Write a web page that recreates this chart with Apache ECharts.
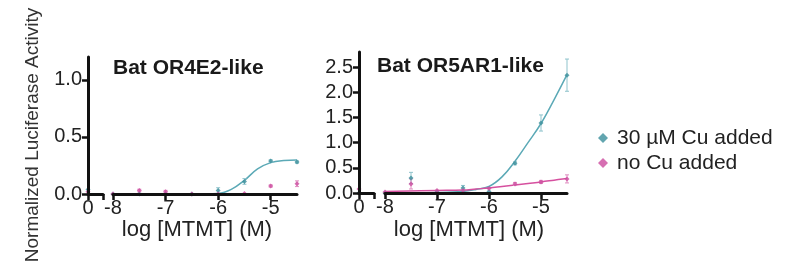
<!DOCTYPE html>
<html>
<head>
<meta charset="utf-8">
<script src="https://cdn.jsdelivr.net/npm/echarts@6/dist/echarts.min.js"></script>
<style>html,body{margin:0;padding:0;background:#fff}#c{width:800px;height:280px}</style>
</head>
<body>
<div id="c"></div>
<script>
// ---- data ----
const logConc = [-8, -7.5, -7, -6.5, -6, -5.5, -5, -4.5];
const xTicks = [-8, -7, -6, -5];

// Left panel: Bat OR4E2-like
const leftCuZero = 0.04, leftNoZero = 0.02;
const leftCu      = [0.0, 0.0, 0.0, 0.0, 0.03, 0.11, 0.29, 0.28];
const leftCuErr   = [0, 0, 0, 0, 0.025, 0.025, 0.01, 0.01];
const leftNo      = [0.0, 0.03, 0.02, 0.0, 0.0, 0.005, 0.07, 0.09];
const leftNoErr   = [0, 0.012, 0.012, 0, 0, 0, 0.01, 0.025];
const leftFitX    = [-8, -6.5, -6.0, -5.75, -5.5, -5.25, -5.0, -4.75, -4.5];
const leftFitCu   = [0.0, 0.0, 0.005, 0.04, 0.12, 0.22, 0.275, 0.293, 0.297];

// Right panel: Bat OR5AR1-like
const rightCuZero = 0.0, rightNoZero = 0.08;
const rightCu     = [0.0, 0.3, 0.02, 0.1, 0.03, 0.59, 1.39, 2.34];
const rightCuErr  = [0, 0.11, 0, 0.05, 0, 0.03, 0.16, 0.32];
const rightNo     = [0.02, 0.18, 0.05, 0.05, 0.09, 0.18, 0.22, 0.28];
const rightNoErr  = [0, 0.1, 0, 0, 0, 0.03, 0.03, 0.08];
const rightFitX   = [-8, -7, -6.5, -6.25, -6.0, -5.75, -5.5, -5.25, -5.0, -4.75, -4.5];
const rightFitCu  = [0.0, 0.01, 0.03, 0.07, 0.13, 0.32, 0.63, 1.0, 1.38, 1.85, 2.35];
const rightFitNo  = [0.03, 0.05, 0.06, 0.08, 0.1, 0.13, 0.16, 0.19, 0.22, 0.255, 0.29];

const seriesNames = ['30 µM Cu added', 'no Cu added'];
const panelTitles = ['Bat OR4E2-like', 'Bat OR5AR1-like'];
const xTitle = 'log [MTMT] (M)';
const yTitle = 'Normalized Luciferase Activity';

// ---- styles ----
const TEAL = '#3b8f9b', TEAL_LINE = '#5ba9b6', TEAL_ERR = '#8fc3cc';
const PINK = '#cc4b9f', PINK_LINE = '#d6509f', PINK_ERR = '#e08cc0';
const FONT = 'Liberation Sans, Arial, sans-serif';
const AX = {color: '#111', width: 3};

const chart = echarts.init(document.getElementById('c'), null, {renderer: 'canvas'});

const zip = (xs, ys) => xs.map((x, i) => [x, ys[i]]);
const errData = (xs, ys, es) => xs.map((x, i) => [x, ys[i] - es[i], ys[i] + es[i]]).filter((d, i) => es[i] > 0);

function errSeries(xi, yi, data, color) {
  return {
    type: 'custom', xAxisIndex: xi, yAxisIndex: yi, z: 3, silent: true,
    data: data,
    renderItem: function (params, api) {
      const x = api.value(0);
      const lo = api.coord([x, api.value(1)]);
      const hi = api.coord([x, api.value(2)]);
      const w = 2;
      const st = {stroke: color, lineWidth: 1};
      return {type: 'group', children: [
        {type: 'line', shape: {x1: lo[0], y1: lo[1], x2: hi[0], y2: hi[1]}, style: st},
        {type: 'line', shape: {x1: lo[0] - w, y1: lo[1], x2: lo[0] + w, y2: lo[1]}, style: st},
        {type: 'line', shape: {x1: hi[0] - w, y1: hi[1], x2: hi[0] + w, y2: hi[1]}, style: st}
      ]};
    }
  };
}
function pts(name, xi, yi, data, color) {
  return {type: 'scatter', name: name, xAxisIndex: xi, yAxisIndex: yi, z: 4,
    symbol: 'diamond', symbolSize: 5, itemStyle: {color: color}, data: data};
}
function fit(xi, yi, data, color) {
  return {type: 'line', name: 'fit', xAxisIndex: xi, yAxisIndex: yi, z: 2, smooth: 0.4,
    showSymbol: false, lineStyle: {color: color, width: 1.5}, data: data};
}

const yLabel = {fontSize: 20, color: '#222', fontFamily: FONT, margin: 6, formatter: v => v.toFixed(1)};
const xLabel = {fontSize: 20, color: '#222', fontFamily: FONT, margin: 4};

function zeroX(gi) {
  return {gridIndex: gi, type: 'value', min: 0, max: 1, interval: 1, z: 6,
    axisLine: {lineStyle: AX}, axisTick: {length: 6, lineStyle: {color: '#111', width: 2.5}},
    splitLine: {show: false},
    axisLabel: Object.assign({}, xLabel, {formatter: v => v === 0 ? '0' : ''})};
}
function logX(gi) {
  return {gridIndex: gi, type: 'value', min: -8, max: -4.5, interval: 1, z: 6,
    axisLine: {lineStyle: AX},
    axisTick: {length: 6, lineStyle: {color: '#111', width: 2.5}, customValues: xTicks},
    splitLine: {show: false},
    axisLabel: Object.assign({}, xLabel, {customValues: xTicks})};
}
function visY(gi, max, interval) {
  return {gridIndex: gi, type: 'value', min: 0, max: max, interval: interval, z: 6,
    axisLine: {show: true, lineStyle: AX},
    axisTick: {show: true, length: 6, lineStyle: {color: '#111', width: 2.5}},
    splitLine: {show: false}, axisLabel: Object.assign({}, yLabel, {showMaxLabel: false})};
}
function hidY(gi, max, interval) {
  return {gridIndex: gi, type: 'value', min: 0, max: max, interval: interval, show: false, splitLine: {show: false}};
}

const option = {
  animation: false,
  backgroundColor: '#fff',
  textStyle: {fontFamily: FONT},
  grid: [
    {left: 88, width: 15, top: 57, bottom: 86},
    {left: 113, width: 184, top: 57, bottom: 86},
    {left: 359, width: 15, top: 52, bottom: 87},
    {left: 385, width: 182, top: 52, bottom: 87}
  ],
  xAxis: [zeroX(0), logX(1), zeroX(2), logX(3)],
  yAxis: [visY(0, 1.2, 0.5), hidY(1, 1.2, 0.5), visY(2, 2.8, 0.5), hidY(3, 2.8, 0.5)],
  legend: {
    orient: 'vertical', left: 593, top: 122, itemWidth: 10, itemHeight: 10, itemGap: 3,
    textStyle: {fontSize: 21, color: '#222', fontFamily: FONT, lineHeight: 22, padding: [0, 0, 0, 4]},
    data: [
      {name: seriesNames[0], icon: 'diamond', itemStyle: {color: TEAL}},
      {name: seriesNames[1], icon: 'diamond', itemStyle: {color: PINK}}
    ]
  },
  graphic: [
    {type: 'text', left: 113, top: 58, style: {text: panelTitles[0], font: 'bold 21px ' + FONT, fill: '#1a1a1a'}},
    {type: 'text', left: 377, top: 56, style: {text: panelTitles[1], font: 'bold 21px ' + FONT, fill: '#1a1a1a'}},
    {type: 'text', x: 197, y: 230, style: {text: xTitle, font: '22px ' + FONT, fill: '#222', align: 'center', verticalAlign: 'middle'}},
    {type: 'text', x: 469, y: 230, style: {text: xTitle, font: '22px ' + FONT, fill: '#222', align: 'center', verticalAlign: 'middle'}},
    {type: 'text', x: 33, y: 135, rotation: Math.PI / 2, style: {text: yTitle, font: '19px ' + FONT, fill: '#333', align: 'center', verticalAlign: 'middle'}}
  ],
  series: [
    // left panel
    fit(1, 1, zip(leftFitX, leftFitCu), TEAL_LINE),
    errSeries(1, 1, errData(logConc, leftCu, leftCuErr), TEAL_ERR),
    errSeries(1, 1, errData(logConc, leftNo, leftNoErr), PINK_ERR),
    pts(seriesNames[0], 1, 1, zip(logConc, leftCu), TEAL),
    pts(seriesNames[1], 1, 1, zip(logConc, leftNo), PINK),
    pts(seriesNames[0], 0, 0, [[0, leftCuZero]], TEAL),
    pts(seriesNames[1], 0, 0, [[0, leftNoZero]], PINK),
    // right panel
    fit(3, 3, zip(rightFitX, rightFitCu), TEAL_LINE),
    fit(3, 3, zip(rightFitX, rightFitNo), PINK_LINE),
    errSeries(3, 3, errData(logConc, rightCu, rightCuErr), TEAL_ERR),
    errSeries(3, 3, errData(logConc, rightNo, rightNoErr), PINK_ERR),
    pts(seriesNames[0], 3, 3, zip(logConc, rightCu), TEAL),
    pts(seriesNames[1], 3, 3, zip(logConc, rightNo), PINK),
    pts(seriesNames[0], 2, 2, [[0, rightCuZero]], TEAL),
    pts(seriesNames[1], 2, 2, [[0, rightNoZero]], PINK)
  ]
};
chart.setOption(option);
</script>
</body>
</html>
